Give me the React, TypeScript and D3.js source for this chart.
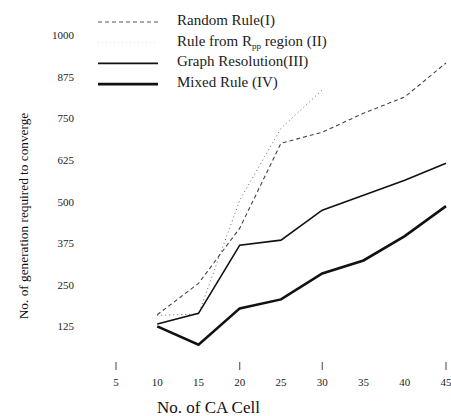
import React from "react";
import * as d3 from "d3";

const cells = [10, 15, 20, 25, 30, 35, 40, 45];
const randomRule = [160, 254, 420, 675, 708, 765, 814, 916];
const rppRule = [158, 162, 504, 720, 835];
const graphRes = [132, 164, 369, 384, 474, 519, 564, 615];
const mixedRule = [125, 70, 179, 206, 284, 323, 396, 486];
const xTickLabels = [5, 10, 15, 20, 25, 30, 35, 40, 45];
const xTickMarks = [5, 20, 30, 45];
const yTicks = [125, 250, 375, 500, 625, 750, 875, 1000];

const legendItems = [
  { label: "Random Rule(I)", dash: "4,3", w: 1, color: "#555" },
  { label: "rpp", dash: "1,3", w: 1, color: "#ddd" },
  { label: "Graph Resolution(III)", dash: "none", w: 1.6, color: "#111" },
  { label: "Mixed Rule (IV)", dash: "none", w: 2.6, color: "#111" },
];

export default function App() {
  const W = 451, H = 416;
  const x = d3.scaleLinear().domain([5, 45]).range([116, 446]);
  const y = d3.scaleLinear().domain([0, 1000]).range([368, 35]);
  const line = d3.line<[number, number]>().x(d => x(d[0])).y(d => y(d[1]));
  const mk = (vals: number[]) => vals.map((v, i) => [cells[i], v] as [number, number]);
  const font = "'Liberation Serif', 'DejaVu Serif', serif";
  return (
    <svg width={W} height={H} style={{ position: "absolute", left: 0, top: 0, background: "#fff" }} fontFamily={font}>
      {yTicks.map(t => (
        <text key={t} x={74} y={y(t) + 4} fontSize={11} textAnchor="end" fill="#222">{t}</text>
      ))}
      {xTickMarks.map(t => (
        <line key={t} x1={x(t)} x2={x(t)} y1={362} y2={370} stroke="#444" strokeWidth={1} />
      ))}
      {xTickLabels.map(t => (
        <text key={t} x={x(t)} y={386} fontSize={11} textAnchor="middle" fill="#222">{t}</text>
      ))}
      <text x={157} y={413} fontSize={17} fill="#111">No. of CA Cell</text>
      <text transform="translate(28,216) rotate(-90)" fontSize={13.3} textAnchor="middle" fill="#111">
        No. of generation required to converge
      </text>
      <path d={line(mk(rppRule)) || ""} fill="none" stroke="#666" strokeWidth={1} strokeDasharray="1,3" />
      <path d={line(mk(randomRule)) || ""} fill="none" stroke="#444" strokeWidth={1.1} strokeDasharray="4,3" />
      <path d={line(mk(graphRes)) || ""} fill="none" stroke="#111" strokeWidth={1.6} />
      <path d={line(mk(mixedRule)) || ""} fill="none" stroke="#111" strokeWidth={2.6} />
      {legendItems.map((it, i) => {
        const ly = 20 + i * 20.7;
        return (
          <g key={i}>
            <line x1={98} x2={158} y1={ly + 2} y2={ly + 2} stroke={it.color} strokeWidth={it.w} strokeDasharray={it.dash} />
            {it.label === "rpp" ? (
              <text x={177} y={ly + 5} fontSize={15} fill="#222">
                Rule from R<tspan fontSize={9} dy={3}>pp</tspan><tspan dy={-3}> region (II)</tspan>
              </text>
            ) : (
              <text x={177} y={ly + 5} fontSize={15} fill="#222">{it.label}</text>
            )}
          </g>
        );
      })}
    </svg>
  );
}
